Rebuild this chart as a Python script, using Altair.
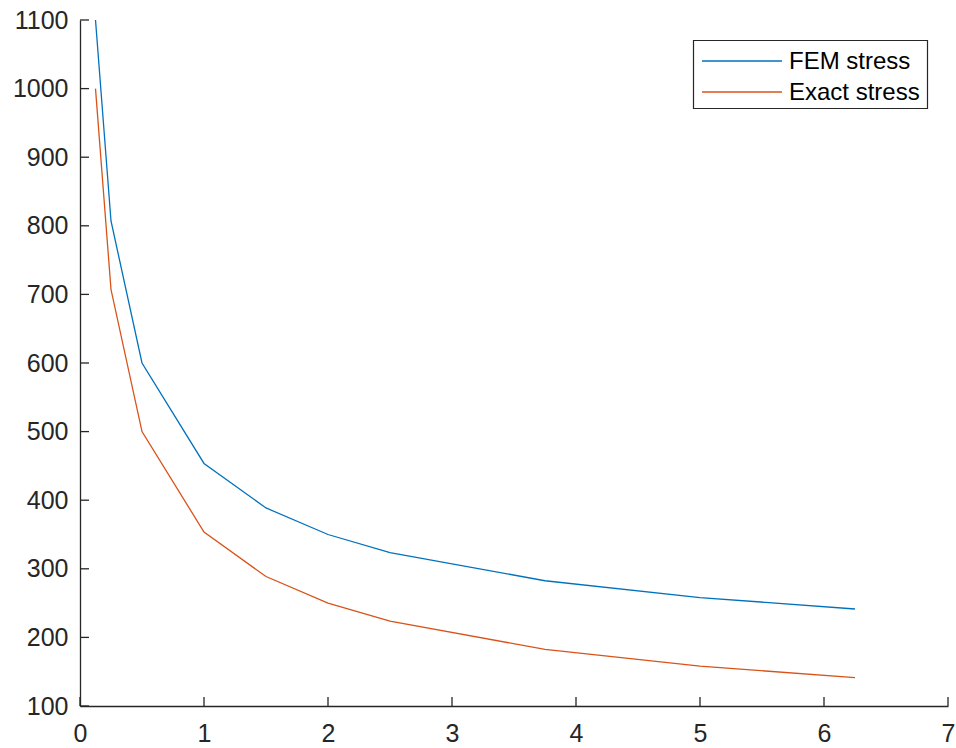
import altair as alt
import pandas as pd

x_vals = [0.125, 0.25, 0.5, 1, 1.5, 2, 2.5, 3.75, 5, 6.25]
fem_stress = [1100, 807.1, 600, 453.6, 388.7, 350, 323.6, 282.6, 258.1, 241.4]
exact_stress = [1000, 707.1, 500, 353.6, 288.7, 250, 223.6, 182.6, 158.1, 141.4]
series_names = ["FEM stress", "Exact stress"]
series_colors = ["#0072BD", "#D95319"]
x_ticks = [0, 1, 2, 3, 4, 5, 6, 7]
y_ticks = [100, 200, 300, 400, 500, 600, 700, 800, 900, 1000, 1100]

rows = []
for xi, f in zip(x_vals, fem_stress):
    rows.append({"x": xi, "y": f, "series": series_names[0]})
for xi, e in zip(x_vals, exact_stress):
    rows.append({"x": xi, "y": e, "series": series_names[1]})
df = pd.DataFrame(rows)

W, H = 868, 686
FONT = "Liberation Sans"
AX = "#262626"
FS = 25
LFS = 24

xs = alt.Scale(domain=[0, 7], nice=False, zero=False)
ys = alt.Scale(domain=[100, 1100], nice=False, zero=False)
cs = alt.Scale(domain=series_names, range=series_colors)

lines = alt.Chart(df).mark_line(strokeWidth=1.3, clip=True).encode(
    x=alt.X("x:Q", scale=xs, axis=alt.Axis(values=x_ticks, format="d", tickSize=0, domainColor=AX,
                                            domainWidth=1.3, labelColor=AX, labelFont=FONT,
                                            labelFontSize=FS, labelPadding=15, grid=False,
                                            title=None, labelFlush=False, labelOverlap=False)),
    y=alt.Y("y:Q", scale=ys, axis=alt.Axis(values=y_ticks, format="d", tickSize=0, domainColor=AX,
                                            domainWidth=1.3, labelColor=AX, labelFont=FONT,
                                            labelFontSize=FS, labelPadding=12, grid=False,
                                            title=None, labelFlush=False, labelOverlap=False)),
    color=alt.Color("series:N", scale=cs, legend=None),
    detail="series:N",
)

xt = alt.Chart(pd.DataFrame({"t": x_ticks})).mark_rule(color=AX, strokeWidth=1.3).encode(
    x=alt.X("t:Q", scale=xs), y=alt.value(H), y2=alt.value(H - 9))
yt = alt.Chart(pd.DataFrame({"t": y_ticks})).mark_rule(color=AX, strokeWidth=1.3).encode(
    y=alt.Y("t:Q", scale=ys), x=alt.value(0), x2=alt.value(9))

# legend
box = alt.Chart(pd.DataFrame({"a": [0]})).mark_rect(fill="white", stroke=AX, strokeWidth=1.2).encode(
    x=alt.value(613.5), x2=alt.value(847.5), y=alt.value(20.5), y2=alt.value(88.5))

legend_layers = []
for i, name in enumerate(series_names):
    d = pd.DataFrame({"series": [name]})
    legend_layers.append(alt.Chart(d).mark_rule(strokeWidth=1.3).encode(
        x=alt.value(622), x2=alt.value(702), y=alt.value(41 + 31 * i),
        color=alt.Color("series:N", scale=cs, legend=None)))
    legend_layers.append(alt.Chart(d).mark_text(align="left", baseline="middle", font=FONT,
                                                fontSize=LFS, color="black").encode(
        x=alt.value(709), y=alt.value(42 + 31 * i), text="series:N"))

chart = alt.layer(lines, xt, yt, box, *legend_layers).properties(
    width=W, height=H,
    autosize=alt.AutoSizeParams(type="none"),
    padding={"left": 80, "top": 20, "right": 8, "bottom": 42},
    background="white",
).configure_view(stroke=None)

chart.save("out.html", embed_options={"renderer": "svg", "actions": False})
